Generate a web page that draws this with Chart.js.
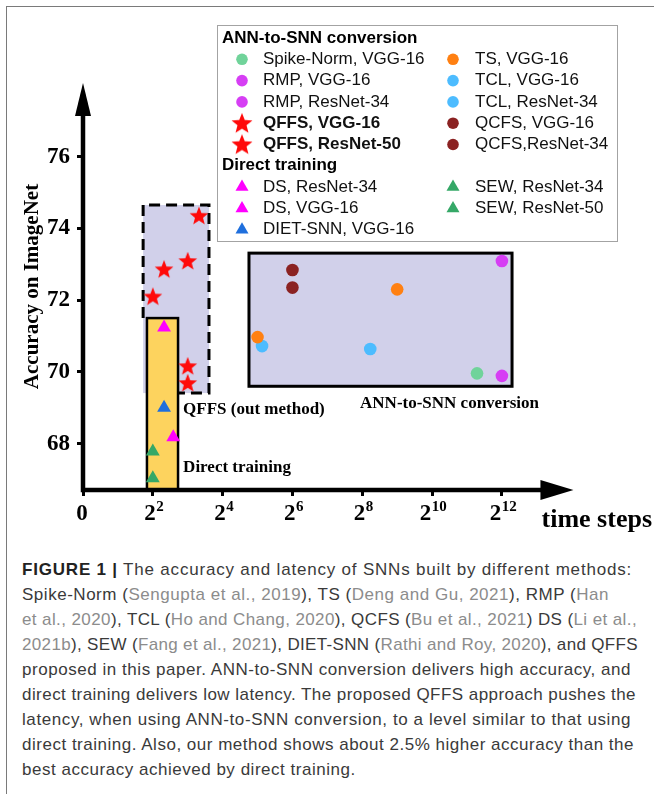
<!DOCTYPE html>
<html>
<head>
<meta charset="utf-8">
<title>Accuracy vs latency of SNNs</title>
<script src="https://cdn.jsdelivr.net/npm/chart.js@4.4.1/dist/chart.umd.min.js"></script>
<style>
  html, body { margin: 0; padding: 0; background: #fff; }
  #fig { position: relative; width: 654px; height: 794px; overflow: hidden; }
  #frame { position: absolute; left: 6px; top: 6px; width: 660px; height: 800px;
           border-left: 1.5px solid #7a7a7a; border-top: 1.5px solid #7a7a7a; }
  #plot { position: absolute; left: 0; top: 0; }
  #caption { position: absolute; left: 22px; top: 557px; font: 17px "Liberation Sans", Arial, sans-serif;
             line-height: 25px; color: #3a3a3a; white-space: nowrap; }
  #caption .ln { display: block; width: max-content; }
  #caption b { color: #222; }
  #caption .ref { color: #8c8c8c; }
</style>
</head>
<body>
<div id="fig">
  <div id="frame"></div>
  <canvas id="plot" width="654" height="540"></canvas>
  <div id="caption">
<div class="ln"><b>FIGURE 1 |</b> The accuracy and latency of SNNs built by different methods:</div>
<div class="ln">Spike-Norm (<span class="ref">Sengupta et al., 2019</span>), TS (<span class="ref">Deng and Gu, 2021</span>), RMP (<span class="ref">Han</span></div>
<div class="ln"><span class="ref">et al., 2020</span>), TCL (<span class="ref">Ho and Chang, 2020</span>), QCFS (<span class="ref">Bu et al., 2021</span>) DS (<span class="ref">Li et al.,</span></div>
<div class="ln"><span class="ref">2021b</span>), SEW (<span class="ref">Fang et al., 2021</span>), DIET-SNN (<span class="ref">Rathi and Roy, 2020</span>), and QFFS</div>
<div class="ln">proposed in this paper. ANN-to-SNN conversion delivers high accuracy, and</div>
<div class="ln">direct training delivers low latency. The proposed QFFS approach pushes the</div>
<div class="ln">latency, when using ANN-to-SNN conversion, to a level similar to that using</div>
<div class="ln">direct training. Also, our method shows about 2.5% higher accuracy than the</div>
<div class="ln">best accuracy achieved by direct training.</div>
  </div>
</div>
<script>
    // time steps (x axis is log2) and top-1 accuracy on ImageNet
    const spikeNormT = [2500];      const spikeNormAcc = [69.96];
    const rmpVggT = [4096];         const rmpVggAcc = [73.09];
    const rmpResT = [4096];         const rmpResAcc = [69.89];
    const qffsVggT = [4, 5, 8, 10]; const qffsVggAcc = [72.1, 72.86, 73.09, 74.35];
    const qffsResT = [8, 8];        const qffsResAcc = [70.16, 69.69];
    const tsT = [32, 512];          const tsAcc = [70.97, 72.3];
    const tclVggT = [35];           const tclVggAcc = [70.72];
    const tclResT = [300];          const tclResAcc = [70.64];
    const qcfsVggT = [64];          const qcfsVggAcc = [72.84];
    const qcfsResT = [64];          const qcfsResAcc = [72.35];
    const dsResT = [6];             const dsResAcc = [68.18];
    const dsVggT = [5];             const dsVggAcc = [71.24];
    const dietT = [5];              const dietAcc = [69.0];
    const sew34T = [4];             const sew34Acc = [67.04];
    const sew50T = [4];             const sew50Acc = [67.78];

    const xTicks = [1, 4, 16, 64, 256, 1024, 4096];
    const yTicks = [68, 70, 72, 74, 76];

    // shaded regions (time steps, accuracy)
    const qffsRegion = { t: [3.3, 12.2], acc: [69.41, 74.65] };
    const directRegion = { t: [3.56, 6.6], acc: [66.71, 71.5] };
    const annRegion = { t: [27, 5010], acc: [69.6, 73.31] };

    const notes = [
        { text: 'QFFS (out method)', t: 7.3, acc: 68.94 },
        { text: 'Direct training', t: 7.3, acc: 67.32 },
        { text: 'ANN-to-SNN conversion', t: 245, acc: 69.13 }
    ];

    const legendGroups = [
        { title: 'ANN-to-SNN conversion', cols: [
            ['Spike-Norm, VGG-16', 'RMP, VGG-16', 'RMP, ResNet-34', 'QFFS, VGG-16', 'QFFS, ResNet-50'],
            ['TS, VGG-16', 'TCL, VGG-16', 'TCL, ResNet-34', 'QCFS, VGG-16', 'QCFS,ResNet-34']] },
        { title: 'Direct training', cols: [
            ['DS, ResNet-34', 'DS, VGG-16', 'DIET-SNN, VGG-16'],
            ['SEW, ResNet-34', 'SEW, ResNet-50']] }
    ];

    const series = [
        { label: 'Spike-Norm, VGG-16', t: spikeNormT, acc: spikeNormAcc, color: '#70d39a', marker: 'circle' },
        { label: 'RMP, VGG-16', t: rmpVggT, acc: rmpVggAcc, color: '#d63ef4', marker: 'circle' },
        { label: 'RMP, ResNet-34', t: rmpResT, acc: rmpResAcc, color: '#d63ef4', marker: 'circle' },
        { label: 'QFFS, VGG-16', t: qffsVggT, acc: qffsVggAcc, color: '#ff0a0a', marker: 'star', bold: true },
        { label: 'QFFS, ResNet-50', t: qffsResT, acc: qffsResAcc, color: '#ff0a0a', marker: 'star', bold: true },
        { label: 'TS, VGG-16', t: tsT, acc: tsAcc, color: '#ff8012', marker: 'circle' },
        { label: 'TCL, VGG-16', t: tclVggT, acc: tclVggAcc, color: '#4dbcff', marker: 'circle' },
        { label: 'TCL, ResNet-34', t: tclResT, acc: tclResAcc, color: '#4dbcff', marker: 'circle' },
        { label: 'QCFS, VGG-16', t: qcfsVggT, acc: qcfsVggAcc, color: '#8b2222', marker: 'circle' },
        { label: 'QCFS,ResNet-34', t: qcfsResT, acc: qcfsResAcc, color: '#8b2222', marker: 'circle' },
        { label: 'DS, ResNet-34', t: dsResT, acc: dsResAcc, color: '#ff00ff', marker: 'triangle' },
        { label: 'DS, VGG-16', t: dsVggT, acc: dsVggAcc, color: '#ff00ff', marker: 'triangle' },
        { label: 'DIET-SNN, VGG-16', t: dietT, acc: dietAcc, color: '#1f6fdd', marker: 'triangle' },
        { label: 'SEW, ResNet-34', t: sew34T, acc: sew34Acc, color: '#35a867', marker: 'triangle' },
        { label: 'SEW, ResNet-50', t: sew50T, acc: sew50Acc, color: '#35a867', marker: 'triangle' }
    ];

    // right end (px) of each caption line in the figure
    const captionEnds = [632, 609, 637, 638, 631, 636, 631, 634];

    const serif = '"Liberation Serif", "Times New Roman", serif';
    const sans = '"Liberation Sans", Arial, sans-serif';
    const lavender = '#d1d0ea';
    const yellow = '#fdd35e';

    function starImage(r, color) {
        const c = document.createElement('canvas');
        c.width = c.height = Math.ceil(2 * r + 2);
        const g = c.getContext('2d');
        g.fillStyle = color;
        g.beginPath();
        for (let i = 0; i < 10; i++) {
            const rr = i % 2 ? r * 0.43 : r;
            const a = -Math.PI / 2 + i * Math.PI / 5;
            g.lineTo(c.width / 2 + rr * Math.cos(a), c.height / 2 + rr * Math.sin(a) + r * 0.06);
        }
        g.closePath();
        g.fill();
        return c;
    }

    const markerSize = { circle: 6.3, triangle: 8, star: 9.8 };

    function pointStyleOf(s) {
        if (s.marker === 'star') return starImage(markerSize.star, s.color);
        return s.marker;
    }

    function toBox(chart, reg) {
        const x = chart.scales.x, y = chart.scales.y;
        return {
            l: x.getPixelForValue(reg.t[0]), r: x.getPixelForValue(reg.t[1]),
            t: y.getPixelForValue(reg.acc[1]), b: y.getPixelForValue(reg.acc[0])
        };
    }

    function drawMarker(ctx, s, x, y) {
        ctx.fillStyle = s.color;
        ctx.beginPath();
        if (s.marker === 'circle') {
            ctx.arc(x, y, 5.8, 0, Math.PI * 2);
            ctx.fill();
        } else if (s.marker === 'triangle') {
            const r = 7.5;
            ctx.moveTo(x, y - r);
            ctx.lineTo(x + r * 0.866, y + r * 0.5);
            ctx.lineTo(x - r * 0.866, y + r * 0.5);
            ctx.closePath();
            ctx.fill();
        } else {
            const img = starImage(11, s.color);
            ctx.drawImage(img, x - img.width / 2, y - img.height / 2);
        }
    }

    // x tick labels as 2 with a raised exponent
    function drawPowerTicks(chart) {
        const ctx = chart.ctx;
        const xs = chart.scales.x;
        const baseY = xs.top + 30;
        ctx.save();
        ctx.fillStyle = '#000';
        ctx.textBaseline = 'alphabetic';
        ctx.textAlign = 'left';
        xs.ticks.forEach(tk => {
            const px = xs.getPixelForValue(tk.value);
            ctx.font = 'bold 23px ' + serif;
            if (tk.value === 1) {
                const w = ctx.measureText('0').width;
                ctx.fillText('0', px - w / 2 - 1, baseY);
                return;
            }
            const exp = String(Math.round(Math.log2(tk.value)));
            const wb = ctx.measureText('2').width;
            ctx.font = 'bold 15px ' + serif;
            const we = ctx.measureText(exp).width;
            const x0 = px - (wb + we) / 2 + 1;
            ctx.fillText(exp, x0 + wb + 0.5, baseY - 9);
            ctx.font = 'bold 23px ' + serif;
            ctx.fillText('2', x0, baseY);
        });
        ctx.restore();
    }

    const backdrop = {
        id: 'backdrop',
        beforeDatasetsDraw(chart) {
            const ctx = chart.ctx;
            const xs = chart.scales.x, ys = chart.scales.y;
            const q = toBox(chart, qffsRegion);
            const d = toBox(chart, directRegion);
            const a = toBox(chart, annRegion);
            ctx.save();
            // QFFS dashed region
            ctx.fillStyle = lavender;
            ctx.fillRect(q.l, q.t, q.r - q.l, q.b - q.t);
            ctx.strokeStyle = '#000';
            ctx.lineWidth = 3;
            ctx.setLineDash([11, 6]);
            ctx.beginPath();
            ctx.moveTo(q.l, d.t);
            ctx.lineTo(q.l, q.t);
            ctx.lineTo(q.r, q.t);
            ctx.lineTo(q.r, q.b);
            ctx.lineTo(d.r, q.b);
            ctx.stroke();
            ctx.setLineDash([]);
            // ANN-to-SNN box
            ctx.fillRect(a.l, a.t, a.r - a.l, a.b - a.t);
            ctx.lineWidth = 3;
            ctx.strokeRect(a.l, a.t, a.r - a.l, a.b - a.t);
            // direct training box
            ctx.fillStyle = yellow;
            ctx.fillRect(d.l, d.t, d.r - d.l, d.b - d.t);
            ctx.lineWidth = 2.5;
            ctx.strokeRect(d.l, d.t, d.r - d.l, d.b - d.t);

            // axes with arrow heads
            const x0 = xs.getPixelForValue(xs.min), y0 = ys.getPixelForValue(ys.min);
            const xEnd = xs.getPixelForValue(Math.pow(2, 14.05)), yEnd = ys.top;
            ctx.fillStyle = '#000';
            ctx.lineWidth = 4.5;
            ctx.beginPath();
            ctx.moveTo(x0, y0 + 2.25);
            ctx.lineTo(x0, yEnd + 30);
            ctx.moveTo(x0 - 2.25, y0);
            ctx.lineTo(xEnd - 30, y0);
            ctx.stroke();
            ctx.beginPath();
            ctx.moveTo(x0 - 8, yEnd + 33);
            ctx.lineTo(x0 + 8, yEnd + 33);
            ctx.lineTo(x0, yEnd);
            ctx.closePath();
            ctx.fill();
            ctx.beginPath();
            ctx.moveTo(xEnd - 33, y0 - 10);
            ctx.lineTo(xEnd - 33, y0 + 10);
            ctx.lineTo(xEnd, y0);
            ctx.closePath();
            ctx.fill();
            ctx.restore();
        },
        afterDraw(chart) {
            const ctx = chart.ctx;
            const xs = chart.scales.x, ys = chart.scales.y;
            drawPowerTicks(chart);
            ctx.save();
            // region notes
            ctx.fillStyle = '#000';
            ctx.font = 'bold 17px ' + serif;
            ctx.textAlign = 'left';
            ctx.textBaseline = 'middle';
            notes.forEach(n => ctx.fillText(n.text, xs.getPixelForValue(n.t), ys.getPixelForValue(n.acc)));

            // legend box
            ctx.fillStyle = '#fff';
            ctx.fillRect(217, 25, 400, 216);
            ctx.strokeStyle = '#a3a3a3';
            ctx.lineWidth = 1;
            ctx.strokeRect(217.5, 25.5, 400, 216);
            const rowH = 21.3;
            let y = 38;
            const markerX = [242, 453], textX = [263, 475];
            legendGroups.forEach(g => {
                ctx.fillStyle = '#000';
                ctx.font = 'bold 17px ' + sans;
                ctx.fillText(g.title, 222, y);
                y += rowH;
                g.cols.forEach((col, c) => {
                    col.forEach((label, i) => {
                        const s = series.find(e => e.label === label);
                        const yy = y + i * rowH;
                        drawMarker(ctx, s, markerX[c], yy);
                        ctx.fillStyle = '#111';
                        ctx.font = (s.bold ? 'bold ' : '') + '17px ' + sans;
                        ctx.fillText(label, textX[c], yy);
                    });
                });
                y += Math.max(...g.cols.map(col => col.length)) * rowH;
            });
            ctx.restore();
        }
    };

    // spread each caption line to the width it has in the figure
    function fitCaption() {
        const box = document.getElementById('caption');
        const left = box.getBoundingClientRect().left;
        const lines = [...box.querySelectorAll('.ln')];
        const spacings = [];
        lines.forEach((ln, i) => {
            const n = ln.textContent.trim().length;
            const w = ln.getBoundingClientRect().width;
            const end = captionEnds[i];
            if (end === undefined) return;
            const ls = (end - left - w) / n;
            spacings.push(ls);
            ln.style.letterSpacing = ls + 'px';
        });
        const avg = spacings.slice(4).reduce((p, v) => p + v, 0) / Math.max(1, spacings.slice(4).length);
        lines.slice(captionEnds.length).forEach(ln => { ln.style.letterSpacing = avg + 'px'; });
    }

    window.addEventListener('DOMContentLoaded', () => {
        fitCaption();

        const datasets = series.map(s => ({
            label: s.label,
            data: s.t.map((t, i) => ({ x: t, y: s.acc[i] })),
            pointStyle: pointStyleOf(s),
            pointRadius: markerSize[s.marker],
            pointHoverRadius: markerSize[s.marker],
            backgroundColor: s.color,
            borderWidth: 0
        }));

        new Chart(document.getElementById('plot'), {
            type: 'scatter',
            data: { datasets },
            options: {
                responsive: false,
                animation: false,
                layout: { autoPadding: false, padding: { left: 0, top: 83, right: 2, bottom: 0 } },
                plugins: {
                    legend: { display: false },
                    tooltip: { enabled: false }
                },
                scales: {
                    x: {
                        type: 'logarithmic',
                        min: 1,
                        max: Math.pow(2, 16.3),
                        afterBuildTicks: s => { s.ticks = xTicks.map(v => ({ value: v })); },
                        afterFit: s => { s.height = 50; s.paddingLeft = 0; s.paddingRight = 0; },
                        border: { display: false },
                        grid: { display: true, drawOnChartArea: false, drawTicks: true, tickLength: 6, tickWidth: 3, tickColor: '#000' },
                        ticks: { display: false, autoSkip: false, maxRotation: 0 },
                        title: {
                            display: true, text: 'time steps', align: 'end', color: '#000',
                            font: { family: serif, size: 26, weight: 'bold' },
                            padding: { top: 0, bottom: 4 }
                        }
                    },
                    y: {
                        min: 66.71,
                        max: 78.05,
                        afterBuildTicks: s => { s.ticks = yTicks.map(v => ({ value: v })); },
                        afterFit: s => { s.width = 83; s.paddingTop = 0; s.paddingBottom = 0; },
                        border: { display: false },
                        grid: { display: true, drawOnChartArea: false, drawTicks: true, tickLength: 6, tickWidth: 3, tickColor: '#000' },
                        ticks: {
                            padding: 7, color: '#000',
                            font: { family: serif, size: 23, weight: 'bold' }
                        },
                        title: {
                            display: true, text: 'Accuracy on ImageNet', color: '#000',
                            font: { family: serif, size: 21, weight: 'bold' },
                            padding: { top: 20, bottom: 0 }
                        }
                    }
                }
            },
            plugins: [backdrop]
        });
    });
</script>
</body>
</html>
